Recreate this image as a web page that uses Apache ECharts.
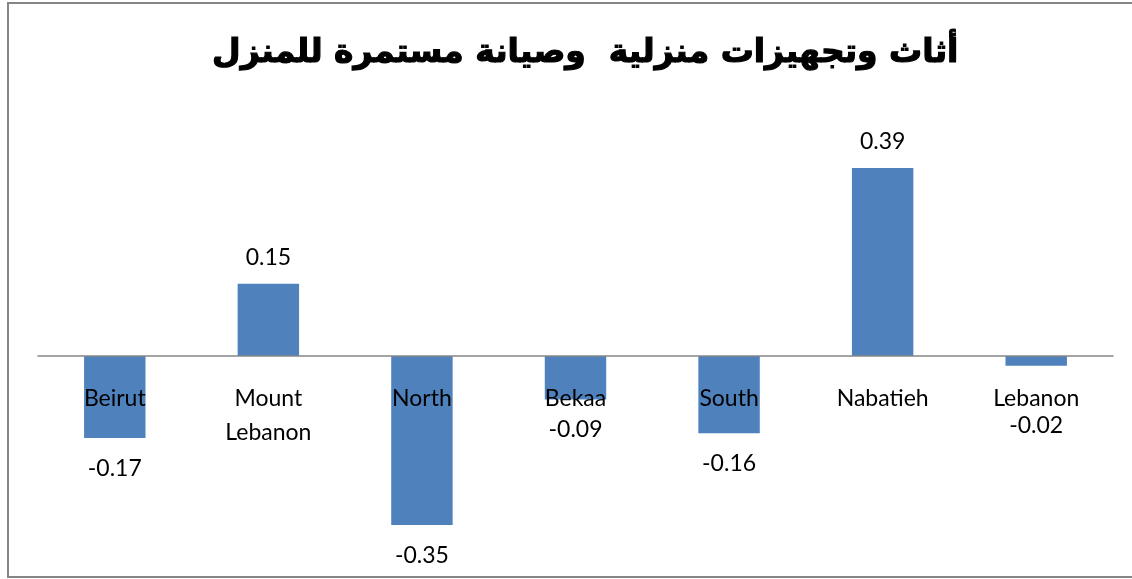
<!DOCTYPE html>
<html>
<head>
<meta charset="utf-8">
<script src="https://cdn.jsdelivr.net/npm/echarts@6/dist/echarts.min.js"></script>
<style>
  html, body { margin: 0; padding: 0; background: #fff; }
  #chart { width: 1132px; height: 579px; }
</style>
</head>
<body>
<div id="chart"></div>
<script>
var titleText = 'أثاث وتجهيزات منزلية  وصيانة مستمرة للمنزل';
var regions = ['Beirut', 'Mount\nLebanon', 'North', 'Bekaa', 'South', 'Nabatieh', 'Lebanon'];
var changes = [-0.17, 0.15, -0.35, -0.09, -0.16, 0.39, -0.02];

var labelFont = 'Lato, "Open Sans", sans-serif';
var yMin = -0.4, yMax = 0.45;
var gridTop = 139, gridH = 410;
// distance from grid bottom up to the zero line
var zeroOffset = gridH * (0 - yMin) / (yMax - yMin);

var myChart = echarts.init(document.getElementById('chart'));

var seriesData = changes.map(function (v, i) {
    var item = { value: v, label: { distance: v < 0 ? 19 : 15 } };
    // excel pushed the last label below the category name
    if (i === changes.length - 1) {
        item.label.distance = 48;
    }
    return item;
});

myChart.setOption({
    animation: false,
    backgroundColor: '#fff',
    title: {
        text: titleText,
        left: 207,
        top: 32,
        textStyle: {
            fontFamily: '"DejaVu Sans", sans-serif',
            fontWeight: 'bold',
            fontSize: 33,
            color: '#000',
            textBorderColor: '#000',
            textBorderWidth: 1.2
        }
    },
    graphic: [{
        type: 'rect',
        shape: { x: 8, y: 3, width: 1140, height: 574 },
        style: { fill: 'none', stroke: '#868686', lineWidth: 2 },
        silent: true,
        z: -1
    }],
    grid: {
        left: 38,
        right: 19,
        top: gridTop,
        height: gridH,
        outerBoundsMode: 'none',
        containLabel: false
    },
    xAxis: {
        type: 'category',
        data: regions,
        position: 'bottom',
        offset: -zeroOffset,
        axisLine: { onZero: false, lineStyle: { color: '#868686', width: 1.5 } },
        axisTick: { show: false },
        axisLabel: {
            margin: 26,
            interval: 0,
            color: '#000',
            fontFamily: labelFont,
            fontSize: 23,
            lineHeight: 34,
            verticalAlign: 'top'
        },
        z: 5
    },
    yAxis: {
        type: 'value',
        min: yMin,
        max: yMax,
        show: false,
        splitLine: { show: false }
    },
    series: [{
        type: 'bar',
        data: seriesData,
        barWidth: '40%',
        itemStyle: { color: '#4F81BD' },
        label: {
            show: true,
            position: 'outside',
            color: '#000',
            fontFamily: labelFont,
            fontSize: 23,
            formatter: function (p) { return p.value.toFixed(2); }
        }
    }]
});
</script>
</body>
</html>
